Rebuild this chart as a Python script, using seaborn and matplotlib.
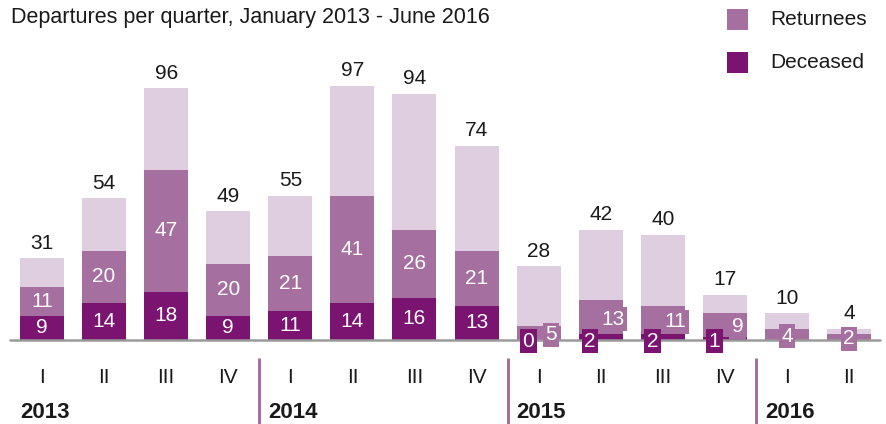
import numpy as np
import pandas as pd
import matplotlib
matplotlib.use("Agg")
import matplotlib.pyplot as plt
from matplotlib.patches import Rectangle
import seaborn as sns

# =========================
# DATA
# =========================
years = [2013, 2013, 2013, 2013, 2014, 2014, 2014, 2014, 2015, 2015, 2015, 2015, 2016, 2016]
quarters = ["I", "II", "III", "IV", "I", "II", "III", "IV", "I", "II", "III", "IV", "I", "II"]
totals = [31, 54, 96, 49, 55, 97, 94, 74, 28, 42, 40, 17, 10, 4]
returnees = [11, 20, 47, 20, 21, 41, 26, 21, 5, 13, 11, 9, 4, 2]
deceased = [9, 14, 18, 9, 11, 14, 16, 13, 0, 2, 2, 1, None, None]

title = "Departures per quarter, January 2013 - June 2016"
legend_labels = ["Returnees", "Deceased"]

# =========================
# STYLE
# =========================
sns.set_theme(style="white")
plt.rcParams["font.family"] = ["Liberation Sans", "DejaVu Sans"]

LIGHT = "#dfcde0"
MID = "#a5709f"
DARK = "#7b1370"
SEP = "#a3639c"
TEXT = "#1a1a1a"
FS = 15

df = pd.DataFrame({
    "key": [f"{y} {q}" for y, q in zip(years, quarters)],
    "year": years,
    "quarter": quarters,
    "total": totals,
    "returnees": returnees,
    "deceased": pd.array(deceased, dtype="Float64"),
})
df["dec0"] = df["deceased"].fillna(0).astype(float)
df["stack"] = df["dec0"] + df["returnees"]

W, H = 886, 424
fig = plt.figure(figsize=(W / 100, H / 100), dpi=100)
ax = fig.add_axes([0, 0, 1, 1])

BW = 0.709
order = list(df["key"])
for col, c in [("total", LIGHT), ("stack", MID), ("dec0", DARK)]:
    sns.barplot(data=df, x="key", y=col, order=order, color=c, saturation=1,
                width=BW, linewidth=0, errorbar=None, ax=ax)

# pixel mapping: bar spacing 62.08px, baseline at 339.5px, 2.615 px per unit
px_x = 62.08
px_y = 2.615
x0 = -42 / px_x
ax.set_xlim(x0, x0 + W / px_x)
ax.set_ylim(-(H - 339.5) / px_y, 339.5 / px_y)
ax.set_axis_off()

# baseline
ax.axhline(0, xmin=10 / W, xmax=880 / W, color="#9a9a9a", lw=1.8, zorder=5)

dx = 1 / px_x  # one pixel in data units (x)
box = dict(boxstyle="square,pad=0.12", lw=0)

for i, r in df.iterrows():
    # total on top
    ax.annotate(str(r["total"]), (i, r["total"]), xytext=(0, 7),
                textcoords="offset points", ha="center", va="baseline",
                fontsize=FS, color=TEXT)
    d = r["deceased"]
    if r["year"] <= 2014:
        ax.text(i, d / 2, str(int(d)), ha="center", va="center",
                fontsize=FS, color="white", zorder=6)
        ax.text(i, d + r["returnees"] / 2, str(r["returnees"]), ha="center",
                va="center", fontsize=FS, color="white", zorder=6)
    elif r["year"] == 2015:
        ax.text(i - 10.5 * dx, -0.6, str(int(d)), ha="center", va="center",
                fontsize=FS, color="white", zorder=7,
                bbox=dict(box, fc=DARK))
        ax.text(i + 12.5 * dx, d + r["returnees"] / 2 - 0.7, str(r["returnees"]),
                ha="center", va="center", fontsize=FS, color="white", zorder=6,
                bbox=dict(box, fc=MID))
    else:
        ax.text(i, r["returnees"] / 2 - 0.7, str(r["returnees"]), ha="center",
                va="center", fontsize=FS, color="white", zorder=6,
                bbox=dict(box, fc=MID))

    # quarter label
    ax.text(i, -14.7, r["quarter"], ha="center", va="center", fontsize=FS,
            color=TEXT)

# year labels and separators
first_idx = df.groupby("year").head(1).index
for k, i in enumerate(first_idx):
    ax.text(i - BW / 2, -27.9, str(df.loc[i, "year"]), ha="left", va="center",
            fontsize=16, fontweight="bold", color=TEXT)
    if k > 0:
        ax.vlines(i - 0.5, -(H - 339.5) / px_y, -7.1, color=SEP, lw=2)

# title
fig.text(11 / W, 1 - 17 / H, title, ha="left", va="center", fontsize=15.5,
         color=TEXT)

# legend
for j, (lab, c) in enumerate(zip(legend_labels, [MID, DARK])):
    yc = 19.5 + 43 * j
    fig.patches.append(Rectangle((727 / W, 1 - (yc + 10.5) / H), 21 / W, 21 / H,
                                 transform=fig.transFigure, fc=c, lw=0))
    fig.text(770 / W, 1 - yc / H, lab, ha="left", va="center", fontsize=FS,
             color=TEXT)

fig.savefig("out.png", dpi=100)
